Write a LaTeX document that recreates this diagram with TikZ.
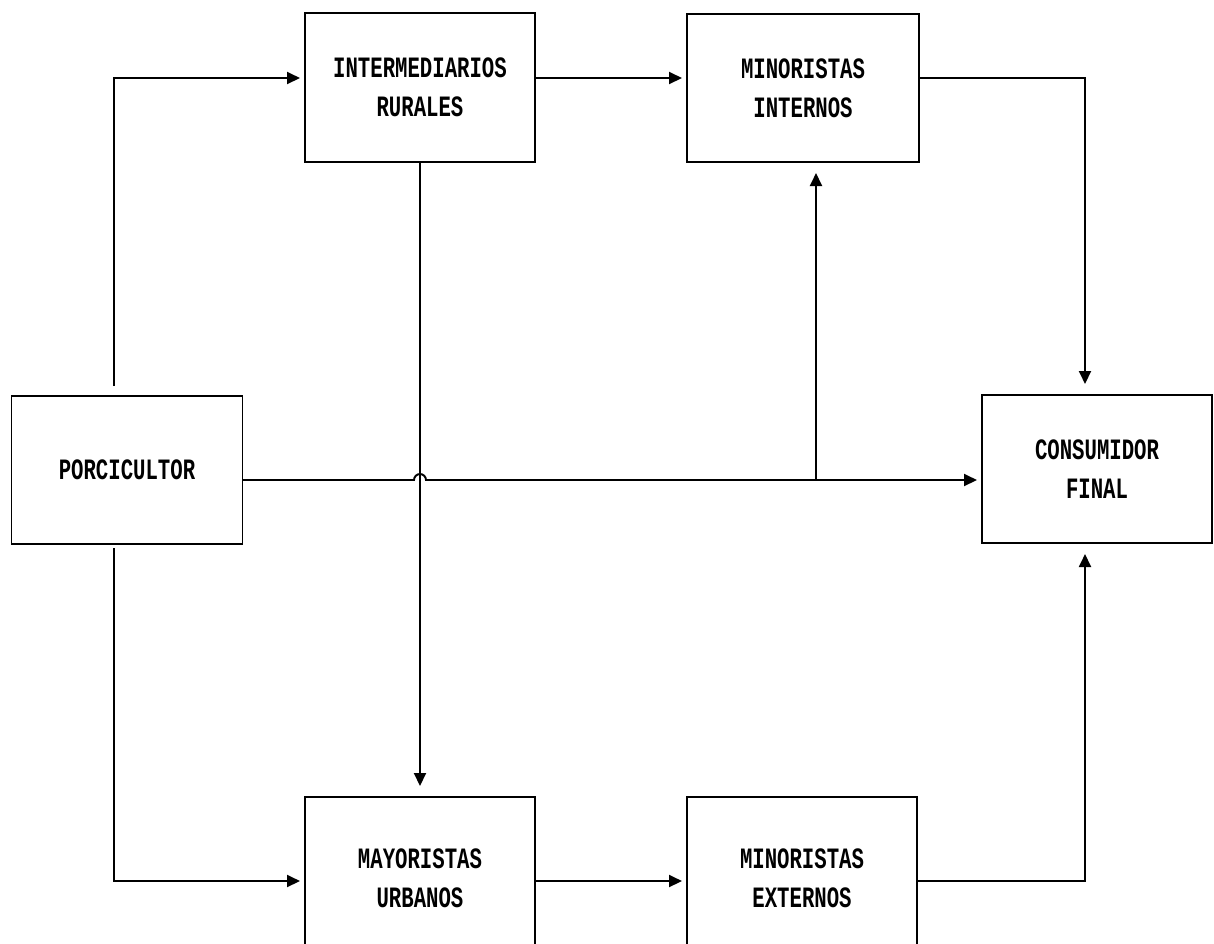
\documentclass[tikz,border=0pt]{standalone}
\usepackage{fontspec}
\newfontfamily\boxfont[FakeStretch=0.7]{Liberation Mono}
\usepackage{tikz}
\usetikzlibrary{arrows.meta}

\tikzset{
  box/.style={draw, line width=1.1pt, minimum width=46mm, minimum height=29.6mm,
    inner sep=0pt, outer sep=0pt, align=center,
    font=\boxfont\bfseries\fontsize{16.8}{22.2}\selectfont},
  flow/.style={line width=1.1pt, -{Triangle[length=2.6mm,width=2.4mm]}, shorten >=1mm},
  flowv/.style={flow, shorten >=2.2mm},
}

\begin{document}
\begin{tikzpicture}[x=0.2mm, y=-0.2mm]
\useasboundingbox (0,0) rectangle (1214,943);
%%%%% Boxes %%%%%
\node[box, minimum width=46.2mm] (porcicultor) at (127,470) {PORCICULTOR};
\node[box, minimum height=29.8mm] (intermed) at (420,87.5) {INTERMEDIARIOS\\RURALES};
\node[box, minimum width=46.4mm] (minint) at (803,88) {MINORISTAS\\INTERNOS};
\node[box] (consumidor) at (1097,469) {CONSUMIDOR\\FINAL};
\node[box, minimum height=32.4mm] (mayor) at (420,878) {MAYORISTAS\\URBANOS};
\node[box, minimum height=32.4mm] (minext) at (802,878) {MINORISTAS\\EXTERNOS};
%%%%% Corners %%%%%
\coordinate (c1) at (114,78);
\coordinate (c2) at (114,881);
\coordinate (c3) at (1085,78);
\coordinate (c4) at (1085,881);
\coordinate (hop) at (420,480);
\coordinate (branch) at (816,480);
%%%%% Flows %%%%%
\draw[flow, shorten <=2mm] (porcicultor.north -| c1) -- (c1) -- (intermed.west |- c1);
\draw[flow, shorten <=0.8mm] (porcicultor.south -| c2) -- (c2) -- (mayor.west |- c2);
\draw[flow] (intermed.east |- c1) -- (minint.west |- c1);
\draw[flow] (mayor.east |- c2) -- (minext.west |- c2);
\draw[flowv] (minint.east |- c3) -- (c3) -- (consumidor.north -| c3);
\draw[flowv] (minext.east |- c4) -- (c4) -- (consumidor.south -| c4);
\draw[flow] (porcicultor.east |- hop) -- ([xshift=-1.2mm]hop)
  arc[start angle=180, end angle=0, radius=1.2mm] -- (consumidor.west |- hop);
\draw[flowv] (branch) -- (minint.south -| branch);
\draw[flowv] (intermed.south) -- (mayor.north);
\end{tikzpicture}
\end{document}
